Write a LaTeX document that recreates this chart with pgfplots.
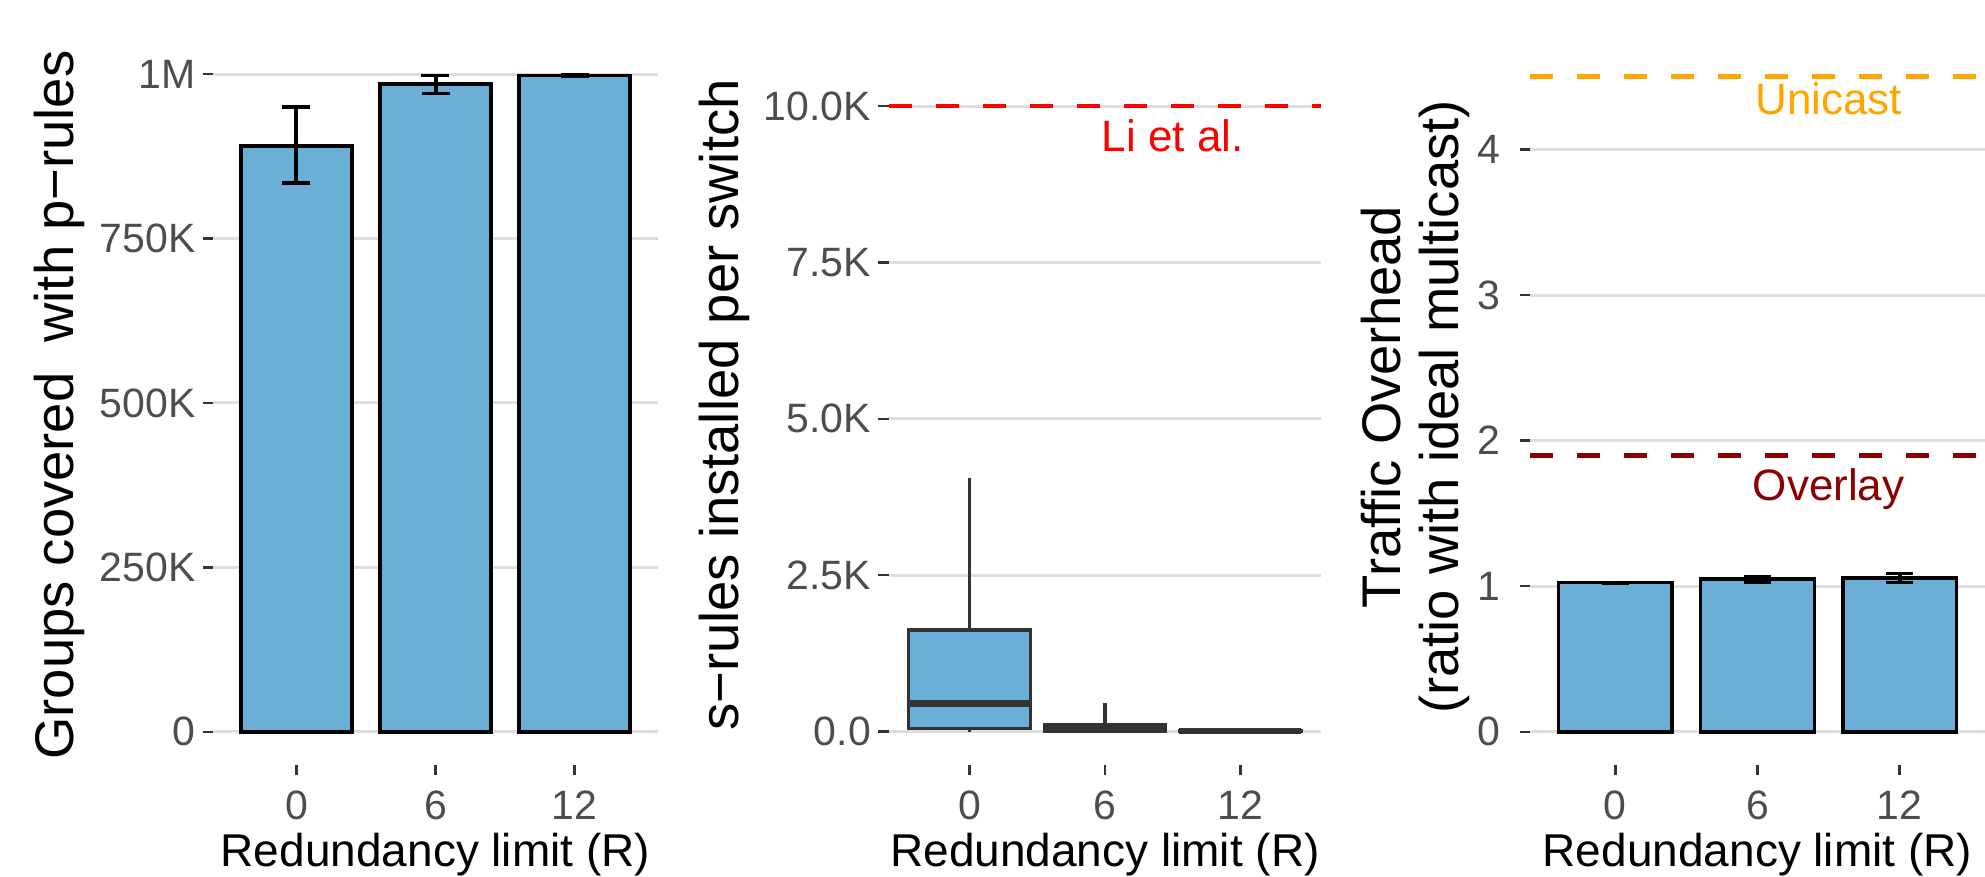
\documentclass[border=0pt]{standalone}
\usepackage{pgfplots}
\pgfplotsset{compat=1.18}
\usepgfplotslibrary{statistics}
\usepackage{fontspec}
\setmainfont{Liberation Sans}

\definecolor{barfill}{HTML}{6BAED6}
\definecolor{ticktext}{HTML}{4D4D4D}
\definecolor{tickmark}{HTML}{333333}
\definecolor{gridgrey}{HTML}{DEDEDE}
\definecolor{unicastc}{HTML}{FFA500}
\definecolor{overlayc}{HTML}{8B0000}

\tikzset{ytitle/.style={font=\fontsize{13.6}{14.5}\selectfont, anchor=base}}

\pgfplotsset{
  panel/.style={
    scale only axis,
    anchor=south west,
    height=180.8pt,
    xmin=-0.6, xmax=2.6,
    xtick={0,1,2}, xticklabels={0,6,12},
    axis x line*=bottom, axis y line*=left,
    axis line style={draw=none},
    tick align=outside,
    major tick length=2.5pt,
    tick style={tickmark, line width=0.6pt},
    ymajorgrids, grid style={gridgrey, line width=0.75pt},
    ticklabel style={font=\fontsize{10.25}{12}\selectfont, text=ticktext},
    xticklabel style={anchor=base, inner sep=0pt, yshift=-11.3pt},
    yticklabel style={anchor=east, inner sep=0pt, xshift=-1.7pt},
    xlabel={Redundancy limit (R)},
    xlabel style={font=\fontsize{11.5}{13}\selectfont, inner sep=0pt,
      at={(axis description cs:0.5,0)}, anchor=base, yshift=-25.4pt},
    clip=false,
  },
  bars/.style={ybar, bar width=0.8, fill=barfill, draw=black, line width=0.9pt,
    error bars/y dir=both, error bars/y explicit,
    error bars/error bar style={black, line width=1pt},
    error bars/error mark options={black, rotate=90, mark size=3.5pt, line width=0.9pt}},
  sbox/.style={boxplot/draw direction=y, draw=tickmark, fill=barfill, line width=0.8pt},
}

\begin{document}
\begin{tikzpicture}
\useasboundingbox (0,0) rectangle (496.25pt,219.25pt);

% panel 1: groups covered
\begin{axis}[panel, at={(53.25pt,28.1pt)}, width=111.25pt,
  ymin=-50, ymax=1050,
  ytick={0,250,500,750,1000}, yticklabels={0,250K,500K,750K,1M},
  ylabel={Groups covered\ \ with p−rules},
  ylabel style={ytitle, at={(axis description cs:-0.3146,0.4972)}}]
\addplot[bars] coordinates {
  (0,891) += (0,59) -= (0,56)
  (1,985) += (0,13) -= (0,14)
  (2,998) += (0,1) -= (0,1)
};
\end{axis}

% panel 2: s-rules per switch
\begin{axis}[panel, at={(222.125pt,28.1pt)}, width=108.25pt,
  ymin=-0.526, ymax=11.034,
  ytick={0,2.5,5,7.5,10}, yticklabels={0.0,2.5K,5.0K,7.5K,10.0K},
  ylabel={s−rules installed per switch},
  ylabel style={ytitle, at={(axis description cs:-0.3453,0.4972)}}]
\addplot[red, line width=1.2pt, dash pattern=on 5.75pt off 6pt] coordinates {(-0.6,10) (2.6,10)};
\addplot[sbox, boxplot prepared={draw position=0, lower whisker=0, lower quartile=0.054,
    median=0.448, upper quartile=1.626, upper whisker=4.05,
    box extend=0.9, whisker extend=0, every median/.style={line width=1.7pt}}] coordinates {};
\addplot[sbox, boxplot prepared={draw position=1, lower whisker=0, lower quartile=0.005,
    median=0.06, upper quartile=0.118, upper whisker=0.46,
    box extend=0.9, whisker extend=0, every median/.style={line width=1.7pt}}] coordinates {};
\addplot[sbox, boxplot prepared={draw position=2, lower whisker=0, lower quartile=0,
    median=0.01, upper quartile=0.02, upper whisker=0.03,
    box extend=0.9, whisker extend=0, every median/.style={line width=1.7pt}}] coordinates {};
\node[anchor=base, text=red, font=\fontsize{11}{13}\selectfont] at (axis cs:1.5,9.27) {Li et al.};
\end{axis}

% panel 3: traffic overhead
\begin{axis}[panel, at={(382.5pt,28.1pt)}, width=113.75pt,
  ymin=-0.226, ymax=4.744,
  ytick={0,1,2,3,4}, yticklabels={0,1,2,3,4},
  yticklabel style={xshift=-3.1pt},
  ylabel={Traffic Overhead},
  ylabel style={ytitle, at={(axis description cs:-0.2857,0.4945)}}]
\addplot[unicastc, line width=1.2pt, dash pattern=on 5.75pt off 6pt] coordinates {(-0.6,4.5) (2.6,4.5)};
\addplot[overlayc, line width=1.2pt, dash pattern=on 5.75pt off 6pt] coordinates {(-0.6,1.9) (2.6,1.9)};
\addplot[bars, error bars/error mark options={black, rotate=90, mark size=3.4pt, line width=0.8pt}] coordinates {
  (0,1.025) +- (0,0.003)
  (1,1.048) +- (0,0.019)
  (2,1.057) +- (0,0.029)
};
\node[anchor=base, text=unicastc, font=\fontsize{11}{13}\selectfont] at (axis cs:1.5,4.24) {Unicast};
\node[anchor=base, text=overlayc, font=\fontsize{11}{13}\selectfont] at (axis cs:1.5,1.588) {Overlay};
\node[rotate=90, anchor=base, font=\fontsize{13.6}{14.5}\selectfont]
  at (axis description cs:-0.1582,0.4945) {(ratio with ideal multicast)};
\end{axis}
\end{tikzpicture}
\end{document}
